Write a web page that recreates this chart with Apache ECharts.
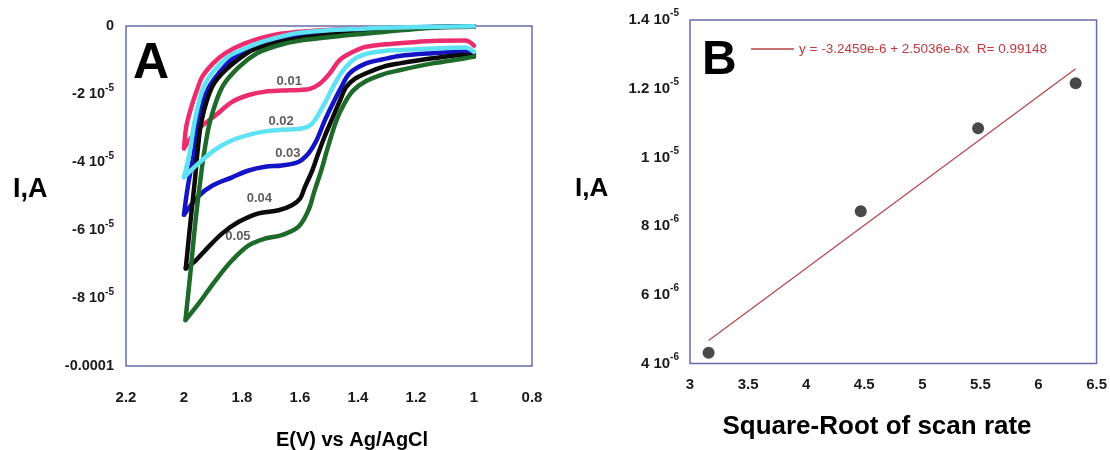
<!DOCTYPE html>
<html>
<head>
<meta charset="utf-8">
<script src="https://cdn.jsdelivr.net/npm/echarts@6/dist/echarts.min.js"></script>
<style>
html,body{margin:0;padding:0;background:#fff;}
#c{width:1110px;height:450px;}
</style>
</head>
<body>
<div id="c"></div>
<script>
// ---------------- Panel A : cyclic voltammograms ----------------
const scanRates = ['0.01', '0.02', '0.03', '0.04', '0.05'];

// scan rate 0.01 V/s
const upperE_001 = [1.0, 1.2, 1.4, 1.55, 1.69, 1.79, 1.857, 1.90, 1.937, 1.952, 1.968, 1.982, 1.993, 2.0];
const upperI_001 = [-0.02e-5, -0.04e-5, -0.08e-5, -0.14e-5, -0.26e-5, -0.51e-5, -0.80e-5, -1.10e-5, -1.49e-5, -1.80e-5, -2.20e-5, -2.60e-5, -3.00e-5, -3.60e-5];
const lowerE_001 = [2.0, 1.97, 1.94, 1.89, 1.834, 1.777, 1.72, 1.663, 1.60, 1.566, 1.532, 1.497, 1.463, 1.417, 1.372, 1.257, 1.143, 1.03, 1.0];
const lowerI_001 = [-3.60e-5, -3.22e-5, -2.95e-5, -2.62e-5, -2.23e-5, -2.03e-5, -1.93e-5, -1.90e-5, -1.88e-5, -1.85e-5, -1.70e-5, -1.39e-5, -1.00e-5, -0.76e-5, -0.61e-5, -0.51e-5, -0.44e-5, -0.43e-5, -0.58e-5];

// scan rate 0.02 V/s
const upperE_002 = [1.0, 1.2, 1.37, 1.6, 1.72, 1.80, 1.85, 1.90, 1.935, 1.962, 1.98, 1.993, 2.0];
const upperI_002 = [-0.01e-5, -0.03e-5, -0.07e-5, -0.20e-5, -0.44e-5, -0.70e-5, -0.92e-5, -1.35e-5, -1.85e-5, -2.75e-5, -3.70e-5, -4.20e-5, -4.45e-5];
const lowerE_002 = [2.0, 1.95, 1.89, 1.834, 1.777, 1.72, 1.663, 1.606, 1.57, 1.549, 1.52, 1.486, 1.455, 1.417, 1.372, 1.314, 1.257, 1.143, 1.03, 1.0];
const lowerI_002 = [-4.45e-5, -4.04e-5, -3.62e-5, -3.36e-5, -3.20e-5, -3.10e-5, -3.05e-5, -3.03e-5, -2.95e-5, -2.77e-5, -2.35e-5, -1.79e-5, -1.35e-5, -1.00e-5, -0.82e-5, -0.74e-5, -0.71e-5, -0.66e-5, -0.63e-5, -0.76e-5];

// scan rate 0.03 V/s
const upperE_003 = [1.0, 1.2, 1.4, 1.55, 1.663, 1.766, 1.825, 1.88, 1.917, 1.954, 1.966, 1.978, 1.99, 2.0];
const upperI_003 = [-0.01e-5, -0.04e-5, -0.10e-5, -0.24e-5, -0.41e-5, -0.66e-5, -0.90e-5, -1.39e-5, -1.85e-5, -2.77e-5, -3.75e-5, -4.30e-5, -4.90e-5, -5.55e-5];
const lowerE_003 = [2.0, 1.949, 1.903, 1.834, 1.777, 1.72, 1.663, 1.606, 1.571, 1.545, 1.514, 1.485, 1.457, 1.429, 1.372, 1.314, 1.257, 1.143, 1.03, 1.0];
const lowerI_003 = [-5.55e-5, -5.00e-5, -4.70e-5, -4.45e-5, -4.25e-5, -4.14e-5, -4.10e-5, -4.00e-5, -3.75e-5, -3.40e-5, -2.77e-5, -2.25e-5, -1.79e-5, -1.39e-5, -1.10e-5, -0.98e-5, -0.88e-5, -0.80e-5, -0.75e-5, -0.82e-5];

// scan rate 0.04 V/s
const upperE_004 = [1.0, 1.14, 1.37, 1.56, 1.66, 1.75, 1.783, 1.857, 1.903, 1.939, 1.954, 1.962, 1.971, 1.983, 1.994];
const upperI_004 = [-0.01e-5, -0.03e-5, -0.12e-5, -0.31e-5, -0.45e-5, -0.66e-5, -0.80e-5, -1.30e-5, -1.79e-5, -2.77e-5, -3.75e-5, -4.50e-5, -5.22e-5, -6.20e-5, -7.13e-5];
const lowerE_004 = [1.994, 1.96, 1.926, 1.868, 1.811, 1.743, 1.674, 1.628, 1.6, 1.583, 1.56, 1.537, 1.515, 1.491, 1.465, 1.44, 1.41, 1.372, 1.314, 1.257, 1.143, 1.03, 1.0];
const lowerI_004 = [-7.13e-5, -6.90e-5, -6.59e-5, -6.10e-5, -5.76e-5, -5.51e-5, -5.42e-5, -5.27e-5, -5.08e-5, -4.73e-5, -4.30e-5, -3.75e-5, -3.25e-5, -2.77e-5, -2.25e-5, -1.79e-5, -1.55e-5, -1.39e-5, -1.20e-5, -1.10e-5, -0.95e-5, -0.85e-5, -0.90e-5];

// scan rate 0.05 V/s
const upperE_005 = [1.0, 1.14, 1.37, 1.6, 1.68, 1.748, 1.81, 1.868, 1.909, 1.931, 1.943, 1.96, 1.977, 1.995];
const upperI_005 = [-0.02e-5, -0.05e-5, -0.22e-5, -0.43e-5, -0.58e-5, -0.80e-5, -1.20e-5, -1.79e-5, -2.77e-5, -3.75e-5, -4.50e-5, -5.71e-5, -7.18e-5, -8.65e-5];
const lowerE_005 = [1.995, 1.949, 1.891, 1.834, 1.777, 1.72, 1.663, 1.606, 1.571, 1.55, 1.525, 1.505, 1.474, 1.445, 1.417, 1.372, 1.314, 1.257, 1.143, 1.03, 1.0];
const lowerI_005 = [-8.65e-5, -8.16e-5, -7.48e-5, -6.89e-5, -6.45e-5, -6.25e-5, -6.15e-5, -5.91e-5, -5.42e-5, -4.85e-5, -4.20e-5, -3.60e-5, -2.77e-5, -2.25e-5, -1.90e-5, -1.62e-5, -1.42e-5, -1.30e-5, -1.10e-5, -0.95e-5, -0.90e-5];

// tick labels panel A
const aXTickValues = [0.8, 1.0, 1.2, 1.4, 1.6, 1.8, 2.0, 2.2];
const aXTickLabels = ['0.8', '1', '1.2', '1.4', '1.6', '1.8', '2', '2.2'];
const aYTickValues = [0, -2e-5, -4e-5, -6e-5, -8e-5, -1e-4];
const aYTickLabels = ['0', '-2 10^-5', '-4 10^-5', '-6 10^-5', '-8 10^-5', '-0.0001'];

// ---------------- Panel B : peak current vs sqrt(scan rate) ----------------
const sqrtScanRate = [3.16, 4.47, 5.48, 6.32];
const peakCurrent = [4.31e-6, 8.43e-6, 10.85e-6, 12.16e-6];
const fitX = [3.16, 6.32];
const fitY = [4.67e-6, 12.58e-6];
const fitName = 'y = -3.2459e-6 + 2.5036e-6x  R= 0.99148';

const bXTickValues = [3, 3.5, 4, 4.5, 5, 5.5, 6, 6.5];
const bXTickLabels = ['3', '3.5', '4', '4.5', '5', '5.5', '6', '6.5'];
const bYTickValues = [4e-6, 6e-6, 8e-6, 1e-5, 1.2e-5, 1.4e-5];
const bYTickLabels = ['4 10^-6', '6 10^-6', '8 10^-6', '1 10^-5', '1.2 10^-5', '1.4 10^-5'];

// ---------------- layout / style (not data) ----------------
const FONT = '"Liberation Sans", Arial, Helvetica, sans-serif';
const curveColors = ['#ec2d6d', '#5fe2f4', '#1414c4', '#0b0b0b', '#1e6a2b'];
const drawOrder = [0, 2, 3, 4, 1];
const labelAnchors = [[1.637, -1.64e-5], [1.665, -2.81e-5], [1.642, -3.74e-5], [1.74, -5.07e-5], [1.814, -6.2e-5]];

const upperE = [upperE_001, upperE_002, upperE_003, upperE_004, upperE_005];
const upperI = [upperI_001, upperI_002, upperI_003, upperI_004, upperI_005];
const lowerE = [lowerE_001, lowerE_002, lowerE_003, lowerE_004, lowerE_005];
const lowerI = [lowerI_001, lowerI_002, lowerI_003, lowerI_004, lowerI_005];

function pairs(xs, ys) { return xs.map((x, i) => [x, ys[i]]); }
function richify(s) {
  const p = s.split('^');
  return p.length === 2 ? '{b|' + p[0] + '}{s|' + p[1] + '}' : '{b|' + p[0] + '}';
}
function tickFmt(values, labels, tol) {
  return function (v) {
    const i = values.findIndex(t => Math.abs(t - v) < tol);
    return i < 0 ? '' : richify(labels[i]);
  };
}
function richStyle(fs, sfs) {
  return {
    b: { fontSize: fs, fontWeight: 'bold', fontFamily: FONT, color: '#1a1a1a', lineHeight: fs + 8 },
    s: { fontSize: sfs, fontWeight: 'bold', fontFamily: FONT, color: '#1a1a1a', lineHeight: sfs, verticalAlign: 'top' }
  };
}

const series = [];
drawOrder.forEach(k => {
  [[upperE[k], upperI[k]], [lowerE[k], lowerI[k]]].forEach(([xs, ys]) => {
    series.push({
      type: 'line', xAxisIndex: 0, yAxisIndex: 0,
      data: pairs(xs, ys), smooth: 0.35, symbol: 'none', silent: true,
      lineStyle: { color: curveColors[k], width: 4.5, cap: 'round', join: 'round' },
      itemStyle: { color: curveColors[k] }
    });
  });
});
series.push({
  type: 'scatter', xAxisIndex: 0, yAxisIndex: 0, symbolSize: 1, silent: true, z: 5,
  itemStyle: { color: 'rgba(0,0,0,0)' },
  data: scanRates.map((r, i) => ({ name: r, value: labelAnchors[i] })),
  label: { show: true, position: 'inside', formatter: p => p.name, fontFamily: FONT, fontWeight: 'bold', fontSize: 13, color: '#333' }
});
series.push({
  name: fitName, type: 'line', xAxisIndex: 1, yAxisIndex: 1, data: pairs(fitX, fitY),
  symbol: 'none', silent: true, lineStyle: { color: '#b4434f', width: 1.2 }, itemStyle: { color: '#b4434f' }
});
series.push({
  type: 'scatter', xAxisIndex: 1, yAxisIndex: 1, data: pairs(sqrtScanRate, peakCurrent),
  symbolSize: 12, silent: true, itemStyle: { color: '#1c1c1c' }
});

function textEl(text, x, y, fs, align) {
  return {
    type: 'text', x: x, y: y, silent: true,
    style: { text: text, font: 'bold ' + fs + 'px ' + FONT, fill: '#000',
             align: align, verticalAlign: 'middle', textAlign: align, textVerticalAlign: 'middle' }
  };
}

const option = {
  animation: false,
  backgroundColor: '#fff',
  grid: [
    { left: 126, right: 578, top: 26, bottom: 84, show: true, borderColor: '#6a6aac', borderWidth: 1.5 },
    { left: 690, right: 13, top: 20, bottom: 86.5, show: true, borderColor: '#6a6aac', borderWidth: 1.5 }
  ],
  xAxis: [
    { type: 'value', gridIndex: 0, min: 0.8, max: 2.2, interval: 0.2, inverse: true,
      axisLine: { show: false }, axisTick: { show: false }, splitLine: { show: false },
      axisLabel: { margin: 20, formatter: tickFmt(aXTickValues, aXTickLabels, 1e-6), rich: richStyle(15, 10), showMinLabel: true, showMaxLabel: true } },
    { type: 'value', gridIndex: 1, min: 3, max: 6.5, interval: 0.5,
      axisLine: { show: false }, axisTick: { show: false }, splitLine: { show: false },
      axisLabel: { margin: 10, formatter: tickFmt(bXTickValues, bXTickLabels, 1e-6), rich: richStyle(15, 10), showMinLabel: true, showMaxLabel: true } }
  ],
  yAxis: [
    { type: 'value', gridIndex: 0, min: -1e-4, max: 0, interval: 2e-5,
      axisLine: { show: false }, axisTick: { show: false }, splitLine: { show: false },
      axisLabel: { margin: 12, formatter: tickFmt(aYTickValues, aYTickLabels, 1e-9), rich: richStyle(14.5, 10), showMinLabel: true, showMaxLabel: true } },
    { type: 'value', gridIndex: 1, min: 4e-6, max: 1.4e-5, interval: 2e-6,
      axisLine: { show: false }, axisTick: { show: false }, splitLine: { show: false },
      axisLabel: { margin: 11, formatter: tickFmt(bYTickValues, bYTickLabels, 1e-10), rich: richStyle(15, 10), showMinLabel: true, showMaxLabel: true } }
  ],
  legend: {
    data: [fitName], left: 746, top: 37, icon: 'rect', itemWidth: 43, itemHeight: 1.5,
    selectedMode: false,
    textStyle: { color: '#c0393f', fontSize: 13.5, fontFamily: FONT }
  },
  graphic: [
    textEl('A', 133, 64, 50, 'left'),
    textEl('B', 702, 61, 48, 'left'),
    textEl('I,A', 13, 190, 27, 'left'),
    textEl('I,A', 575, 189, 26, 'left'),
    textEl('E(V) vs Ag/AgCl', 352, 440, 20, 'center'),
    textEl('Square-Root of scan rate', 877, 427, 26, 'center')
  ],
  series: series
};

const chart = echarts.init(document.getElementById('c'), null, { renderer: 'canvas' });
chart.setOption(option);
</script>
</body>
</html>
